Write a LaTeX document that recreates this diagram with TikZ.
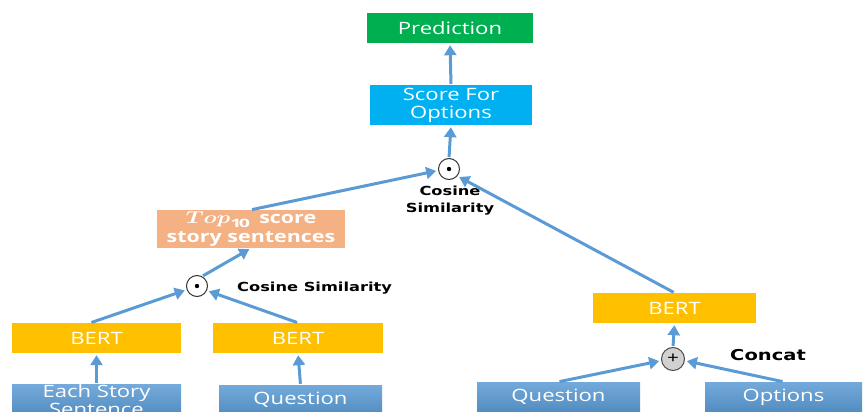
\documentclass[tikz,border=0pt]{standalone}
\usepackage{amsmath}
\usepackage{fontspec}
\setmainfont{Open Sans}[FakeStretch=1.3]
\newfontfamily\lblfont{DejaVu Sans}[FakeStretch=1.3]
\usetikzlibrary{arrows.meta}
\definecolor{predgreen}{HTML}{00B050}
\definecolor{scoreblue}{HTML}{00B0F0}
\definecolor{peach}{HTML}{F4B183}
\definecolor{bertyellow}{HTML}{FFC000}
\definecolor{inblue}{HTML}{5B9BD5}
\definecolor{arrblue}{HTML}{5B9BD5}
\begin{document}
\begin{tikzpicture}[x=1pt,y=-1pt,
  box/.style={rectangle, inner sep=0pt, text=white, align=center,
    font=\fontsize{17}{18}\selectfont},
  inbox/.style={box, top color=inblue!85!white, bottom color=inblue!90!black, minimum height=30},
  arr/.style={-{Triangle[length=10pt,width=12pt]}, line width=3pt, draw=arrblue, shorten >=2pt, shorten <=1pt},
  dotc/.style={circle, draw=black!80, line width=1pt, fill=white, minimum size=21pt, inner sep=0pt},
  plusc/.style={circle, draw=black!70, line width=1pt, fill=black!18, minimum size=23pt, inner sep=0pt, font=\fontsize{16}{16}\selectfont},
  lbl/.style={font=\lblfont\bfseries\fontsize{12.5}{17}\selectfont, align=center, inner sep=0pt}
]
\useasboundingbox (0,0) rectangle (863,412);
\clip (0,0) rectangle (863,412);

\node[box, fill=predgreen, minimum width=166, minimum height=30] (pred) at (450,28) {Prediction};
\node[box, fill=scoreblue, minimum width=162, minimum height=40] (score) at (451,105) {Score For\\Options};
\node[dotc] (cos1) at (449,169) {};
\fill (cos1.center) circle (2.2);
\node[lbl] (cos1l) at (450,201) {Cosine\\Similarity};

\node[box, fill=peach, minimum width=188, minimum height=38, font=\bfseries\fontsize{16.5}{19}\selectfont] (top) at (251,229) {\scalebox{1.3}[1]{$\boldsymbol{Top}_{\mathbf{10}}$}\ \ score\\story sentences};
\node[dotc] (cos2) at (197,286) {};
\fill (cos2.center) circle (2.2);
\node[lbl, anchor=west] (cos2l) at (237,288) {Cosine Similarity};

\node[box, fill=bertyellow, minimum width=169, minimum height=30] (bertL) at (96.5,338) {BERT};
\node[box, fill=bertyellow, minimum width=170, minimum height=30] (bertM) at (298,338) {BERT};
\node[inbox, minimum width=169] (story) at (96.5,400) {Each Story\\Sentence};
\node[inbox, minimum width=163] (qL) at (300.5,400) {Question};

\node[box, fill=bertyellow, minimum width=163, minimum height=30] (bertR) at (674.5,308) {BERT};
\node[plusc] (plus) at (673,359) {+};
\node[lbl, anchor=west, font=\lblfont\bfseries\fontsize{15}{17}\selectfont] (concat) at (730,355) {Concat};
\node[inbox, minimum width=163] (qR) at (558.5,397) {Question};
\node[inbox, minimum width=157] (opt) at (783.5,397) {Options};

\draw[arr] (score.north) -- (pred.south);
\draw[arr] (cos1.north) -- (score.south);
\draw[arr] (top.north) -- (cos1.188);
\draw[arr] (bertR.north) -- (cos1.-40);
\draw[arr] (cos2.62) -- (top.south);
\draw[arr] ([xshift=-6pt]bertL.north) -- (cos2.200);
\draw[arr] (bertM.north) -- (cos2.-25);
\draw[arr] (story.north) -- (bertL.south);
\draw[arr] (qL.north) -- (bertM.south);
\draw[arr] (plus.north) -- (bertR.south);
\draw[arr] (qR.north) -- (plus.188);
\draw[arr] (opt.north) -- (plus.-8);
\end{tikzpicture}
\end{document}
